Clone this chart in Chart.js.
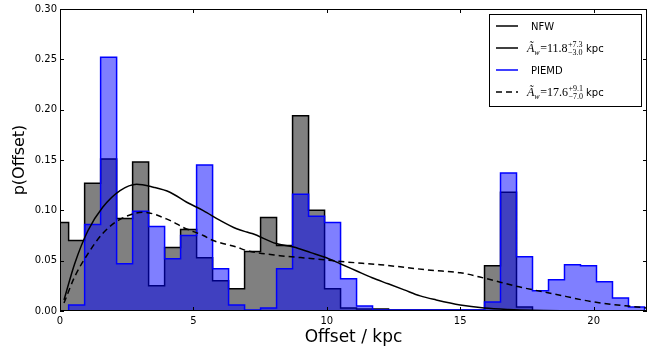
<!DOCTYPE html>
<html>
<head>
<meta charset="utf-8">
<script src="https://cdn.jsdelivr.net/npm/chart.js@4.4.0/dist/chart.umd.min.js"></script>
<style>
  html, body { margin: 0; padding: 0; background: #fff; }
  #wrap { width: 659px; height: 349px; position: relative; }
</style>
</head>
<body>
<div id="wrap"><canvas id="offsetChart"></canvas></div>
<script>
/* ================= DATA ================= */

// histogram bins (same binning for both models)
const binStart = -0.276;
const binWidth = 0.5995;

// NFW posterior histogram (grey)
const nfwHist = [
  0.088, 0.070, 0.127, 0.151, 0.092, 0.148, 0.025, 0.063, 0.081, 0.053,
  0.030, 0.022, 0.059, 0.093, 0.065, 0.194, 0.100, 0.022, 0.003, 0.002,
  0.002, 0.001, 0.001, 0.001, 0.001, 0.001, 0.001, 0.045, 0.118, 0.004,
  0.000, 0.000, 0.000, 0.000, 0.000, 0.000, 0.000
];

// PIEMD posterior histogram (blue)
const piemdHist = [
  0.000, 0.006, 0.086, 0.252, 0.047, 0.099, 0.084, 0.052, 0.075, 0.145,
  0.042, 0.006, 0.001, 0.003, 0.042, 0.116, 0.094, 0.088, 0.032, 0.005,
  0.001, 0.001, 0.001, 0.001, 0.001, 0.001, 0.001, 0.009, 0.137, 0.054,
  0.020, 0.031, 0.046, 0.045, 0.029, 0.013, 0.004
];

// smoothed curves
const nfwCurveX = [0.15, 0.55, 1.05, 1.6, 2.25, 2.87, 3.5, 4.12, 4.75, 5.37, 6.0, 6.62, 7.0, 7.2,
  8.1, 8.75, 9.4, 9.9, 10.5, 11.1, 11.7, 12.3, 12.9, 13.5, 14.1, 15.0, 15.9, 16.8, 17.7, 19.0, 20.5, 22.0];
const nfwCurveY = [0.011, 0.047, 0.080, 0.103, 0.1196, 0.126, 0.123, 0.118, 0.108, 0.0998, 0.090, 0.0817, 0.0784, 0.077,
  0.067, 0.0635, 0.058, 0.0537, 0.047, 0.040, 0.033, 0.027, 0.021, 0.015, 0.011, 0.006, 0.003, 0.0015, 0.0007, 0.0003, 0.0001, 0.0];

const piemdCurveX = [0.15, 0.55, 1.05, 1.6, 2.25, 3.12, 4.12, 4.62, 5.37, 5.74, 6.62, 7.0, 8.24,
  9.49, 10.74, 12.0, 13.9, 15.0, 16.0, 17.2, 18.5, 20.0, 21.5, 22.0];
const piemdCurveY = [0.008, 0.034, 0.057, 0.077, 0.091, 0.098, 0.090, 0.083, 0.075, 0.070, 0.0635, 0.060, 0.055,
  0.052, 0.0487, 0.046, 0.0405, 0.038, 0.032, 0.024, 0.017, 0.009, 0.0043, 0.003];

// axes
const xTicks = [0, 5, 10, 15, 20];
const yTicks = [0, 0.05, 0.10, 0.15, 0.20, 0.25, 0.30];

/* ================= HELPERS ================= */

function histPoints(heights) {
  const pts = [{ x: binStart, y: 0 }];
  heights.forEach((h, i) => pts.push({ x: binStart + i * binWidth, y: h }));
  pts.push({ x: binStart + heights.length * binWidth, y: 0 });
  return pts;
}

function curvePoints(xs, ys) {
  return xs.map((x, i) => ({ x: x, y: ys[i] }));
}

/* ================= FRAME + INSIDE TICKS ================= */

const frameTicks = {
  id: "frameTicks",
  afterDatasetsDraw(chart) {
    const { ctx, chartArea: a, scales: { x, y } } = chart;
    ctx.save();
    ctx.strokeStyle = "#000";
    ctx.lineWidth = 1;
    ctx.strokeRect(a.left + 0.5, a.top + 0.5, a.right - a.left - 1, a.bottom - a.top - 1);
    ctx.beginPath();
    xTicks.forEach(v => {
      const px = Math.round(x.getPixelForValue(v)) + 0.5;
      ctx.moveTo(px, a.bottom); ctx.lineTo(px, a.bottom - 4);
      ctx.moveTo(px, a.top); ctx.lineTo(px, a.top + 4);
    });
    yTicks.forEach(v => {
      const py = Math.round(y.getPixelForValue(v)) + 0.5;
      ctx.moveTo(a.left, py); ctx.lineTo(a.left + 4, py);
      ctx.moveTo(a.right, py); ctx.lineTo(a.right - 4, py);
    });
    ctx.stroke();
    ctx.restore();
  }
};

/* ================= LEGEND ================= */

function drawMath(ctx, x, base, value, up, down) {
  ctx.font = 'italic 12px "Liberation Serif"';
  ctx.fillText("Ã", x, base);
  let cx = x + ctx.measureText("Ã").width;
  ctx.font = 'italic 8px "Liberation Serif"';
  ctx.fillText("w", cx, base + 3);
  cx += ctx.measureText("w").width + 0.5;
  ctx.font = '12px "Liberation Serif"';
  ctx.fillText("=" + value, cx, base);
  cx += ctx.measureText("=" + value).width + 0.5;
  ctx.font = '8px "Liberation Serif"';
  ctx.fillText(up, cx, base - 5);
  ctx.fillText(down, cx, base + 3);
  ctx.font = '10px "DejaVu Sans"';
  ctx.fillText("kpc", 586, base);
}

const mathLegend = {
  id: "mathLegend",
  afterDraw(chart) {
    const ctx = chart.ctx;
    ctx.save();
    ctx.fillStyle = "#fff";
    ctx.fillRect(489.5, 14.5, 152, 92);
    ctx.strokeStyle = "#000";
    ctx.lineWidth = 1;
    ctx.strokeRect(489.5, 14.5, 152, 92);

    const rows = [26, 48, 70, 92];
    const samples = [
      { color: "#000", dash: [] },
      { color: "#000", dash: [] },
      { color: "#0000ff", dash: [] },
      { color: "#000", dash: [6, 4] }
    ];
    samples.forEach((s, i) => {
      ctx.beginPath();
      ctx.strokeStyle = s.color;
      ctx.lineWidth = 1.5;
      ctx.setLineDash(s.dash);
      ctx.moveTo(496, rows[i]);
      ctx.lineTo(518, rows[i]);
      ctx.stroke();
    });
    ctx.setLineDash([]);

    ctx.fillStyle = "#000";
    ctx.textBaseline = "alphabetic";
    ctx.font = '10px "DejaVu Sans"';
    ctx.fillText("NFW", 531, rows[0] + 4);
    ctx.fillText("PIEMD", 531, rows[2] + 4);
    drawMath(ctx, 527, rows[1] + 4, "11.8", "+7.3", "\u22123.0");
    drawMath(ctx, 527, rows[3] + 4, "17.6", "+9.1", "\u22127.0");
    ctx.restore();
  }
};

/* ================= CHART ================= */

new Chart(document.getElementById("offsetChart"), {

  type: "line",

  data: {
    datasets: [
      {
        label: "NFW hist",
        data: histPoints(nfwHist),
        stepped: true,
        fill: "origin",
        backgroundColor: "#808080",
        borderColor: "#000000",
        borderWidth: 1.5,
        pointRadius: 0,
        clip: 0,
        order: 4
      },
      {
        label: "PIEMD hist",
        data: histPoints(piemdHist),
        stepped: true,
        fill: "origin",
        backgroundColor: "rgba(0,0,255,0.5)",
        borderColor: "#0000ff",
        borderWidth: 1.5,
        pointRadius: 0,
        clip: 0,
        order: 3
      },
      {
        label: "NFW",
        data: curvePoints(nfwCurveX, nfwCurveY),
        borderColor: "#000000",
        borderWidth: 1.5,
        cubicInterpolationMode: "monotone",
        pointRadius: 0,
        fill: false,
        order: 2
      },
      {
        label: "PIEMD",
        data: curvePoints(piemdCurveX, piemdCurveY),
        borderColor: "#000000",
        borderWidth: 1.5,
        borderDash: [6, 4],
        cubicInterpolationMode: "monotone",
        pointRadius: 0,
        fill: false,
        order: 1
      }
    ]
  },

  plugins: [frameTicks, mathLegend],

  options: {
    responsive: true,
    maintainAspectRatio: false,
    animation: false,
    layout: { padding: { left: 0, right: 12, top: 9, bottom: 0 } },

    plugins: {
      legend: { display: false },
      tooltip: { enabled: false }
    },

    scales: {
      x: {
        type: "linear",
        min: 0,
        max: 22,
        grid: { display: false, drawTicks: false },
        border: { display: false },
        afterFit: (scale) => { scale.height = 38; },
        ticks: {
          stepSize: 5,
          includeBounds: false,
          padding: 4,
          color: "#000",
          font: { family: "DejaVu Sans", size: 10 }
        },
        title: {
          display: true,
          text: "Offset / kpc",
          color: "#000",
          font: { family: "DejaVu Sans", size: 17 },
          padding: { top: 0, bottom: 1 }
        }
      },
      y: {
        min: 0,
        max: 0.30,
        grid: { display: false, drawTicks: false },
        border: { display: false },
        afterFit: (scale) => { scale.width = 60; },
        ticks: {
          stepSize: 0.05,
          padding: 3,
          color: "#000",
          font: { family: "DejaVu Sans", size: 10 },
          callback: (value) => value.toFixed(2)
        },
        title: {
          display: true,
          text: "p(Offset)",
          color: "#000",
          font: { family: "DejaVu Sans", size: 16 },
          padding: { top: 10, bottom: 0 }
        }
      }
    }
  }

});
</script>
</body>
</html>
